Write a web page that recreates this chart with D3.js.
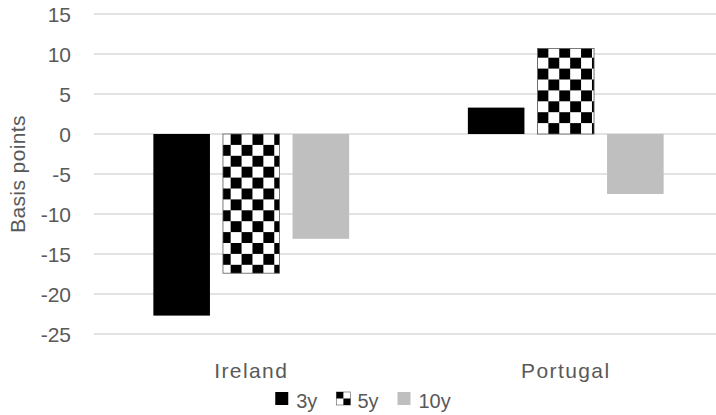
<!DOCTYPE html>
<html>
<head>
<meta charset="utf-8">
<script src="https://cdn.jsdelivr.net/npm/d3@7"></script>
<style>
  body { margin: 0; background: #fff; }
  text { font-family: "Liberation Sans", Arial, sans-serif; fill: #595959; }
</style>
</head>
<body>
<svg id="chart" width="716" height="415"></svg>
<script>
// Data
const countries = ["Ireland", "Portugal"]
const tenors    = ["3y", "5y", "10y"]
const ireland   = [-22.7, -17.4, -13.1]
const portugal  = [3.3, 10.7, -7.5]
const yTicks    = [15, 10, 5, 0, -5, -10, -15, -20, -25]

const rows = countries.map((c, i) => ({
  country: c,
  values: (i == 0 ? ireland : portugal).map((v, j) => ({ tenor: tenors[j], value: v }))
}))

const svg = d3.select("#chart")
const width = +svg.attr("width"),
      height = +svg.attr("height")

// plot area (don't call it "top", that's window.top)
const plotLeft = 94, plotRight = 723, plotTop = 14, plotBottom = 334

const x = d3.scaleBand().domain(countries).range([plotLeft, plotRight])
const xSub = d3.scaleBand().domain(tenors).range([0, x.bandwidth()])
    .paddingInner(0.187).paddingOuter(0.853)
const y = d3.scaleLinear().domain([-25, 15]).range([plotBottom, plotTop])

// checkerboard fill
const cell = 10.9
const defs = svg.append("defs")
const pat = defs.append("pattern")
    .attr("id", "checker")
    .attr("patternUnits", "userSpaceOnUse")
    .attr("width", cell * 2).attr("height", cell * 2)
pat.append("rect").attr("width", cell * 2).attr("height", cell * 2).attr("fill", "#fff")
pat.append("rect").attr("x", cell).attr("y", 0).attr("width", cell).attr("height", cell).attr("fill", "#000")
pat.append("rect").attr("x", 0).attr("y", cell).attr("width", cell).attr("height", cell).attr("fill", "#000")

const fills = { "3y": "#000", "5y": "url(#checker)", "10y": "#bfbfbf" }

// gridlines
svg.append("g")
  .selectAll("line")
  .data(yTicks)
  .enter().append("line")
    .attr("x1", plotLeft).attr("x2", width)
    .attr("y1", d => y(d)).attr("y2", d => y(d))
    .attr("stroke", "#d9d9d9")
    .attr("stroke-width", 1.5)

// y axis labels
svg.append("g")
  .selectAll("text")
  .data(yTicks)
  .enter().append("text")
    .attr("x", 71)
    .attr("y", d => y(d))
    .attr("dy", "0.36em")
    .attr("text-anchor", "end")
    .style("font-size", "21px")
    .text(d => d)

svg.append("text")
    .attr("transform", `translate(25,${(plotTop + plotBottom) / 2}) rotate(-90)`)
    .attr("text-anchor", "middle")
    .style("font-size", "21px")
    .style("letter-spacing", "0.4px")
    .text("Basis points")

// bars
const y0 = y(0)
const groups = svg.append("g")
  .selectAll("g")
  .data(rows)
  .enter().append("g")
    .attr("transform", d => `translate(${x(d.country)},0)`)

// pattern phase for each checker bar (matches the reference tiling)
const phase = { "Ireland": -3.2, "Portugal": -10.9 }

groups.each(function(row) {
  const g = d3.select(this)
  row.values.forEach(d => {
    const bx = xSub(d.tenor)
    const by = Math.min(y(d.value), y0)
    const h = Math.abs(y(d.value) - y0)
    if (d.tenor == "5y") {
      const dx = phase[row.country]
      g.append("g")
          .attr("transform", `translate(${bx + dx},${y0})`)
        .append("rect")
          .attr("x", -dx)
          .attr("y", by - y0)
          .attr("width", xSub.bandwidth())
          .attr("height", h)
          .attr("fill", fills[d.tenor])
          .attr("stroke", "#595959")
          .attr("stroke-width", 0.8)
    } else {
      g.append("rect")
          .attr("x", bx)
          .attr("y", by)
          .attr("width", xSub.bandwidth())
          .attr("height", h)
          .attr("fill", fills[d.tenor])
    }
  })
})

// category labels
svg.append("g")
  .selectAll("text")
  .data(countries)
  .enter().append("text")
    .attr("x", d => x(d) + x.bandwidth() / 2)
    .attr("y", 378)
    .attr("text-anchor", "middle")
    .style("font-size", "21px")
    .style("letter-spacing", "1.4px")
    .text(d => d)

// legend
const legend = svg.append("g")
let lx = 0
tenors.forEach(t => {
  const item = legend.append("g").attr("transform", `translate(${lx},0)`)
  if (t == "5y") {
    const m = item.append("g").attr("transform", "translate(0,392)")
    m.append("rect").attr("width", 14).attr("height", 13).attr("fill", "#fff").attr("stroke", "#7f7f7f").attr("stroke-width", 0.8)
    m.append("rect").attr("width", 7).attr("height", 6.5).attr("fill", "#000")
    m.append("rect").attr("x", 7).attr("y", 6.5).attr("width", 7).attr("height", 6.5).attr("fill", "#000")
  } else {
    item.append("rect")
        .attr("y", 392)
        .attr("width", 13).attr("height", 13)
        .attr("fill", fills[t])
  }
  const txt = item.append("text")
      .attr("x", 21)
      .attr("y", 408)
      .style("font-size", "20px")
      .text(t)
  lx += 21 + txt.node().getComputedTextLength() + 19
})
const lw = lx - 19
legend.attr("transform", `translate(${363 - lw / 2},0)`)
</script>
</body>
</html>
